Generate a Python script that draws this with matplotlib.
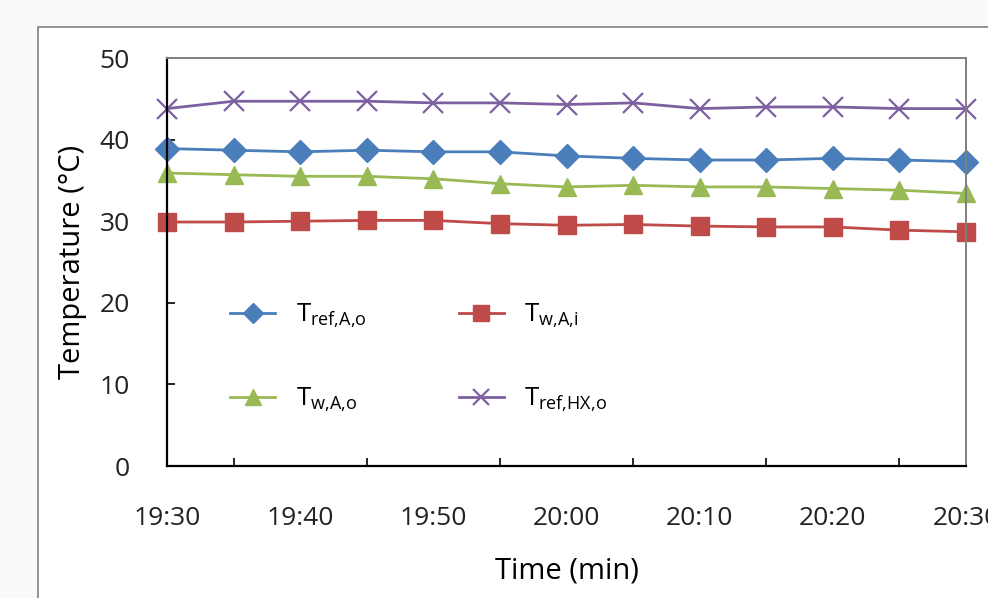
import matplotlib
matplotlib.use("Agg")
import matplotlib.pyplot as plt
from matplotlib.patches import Rectangle
from matplotlib.ticker import MultipleLocator

# Readings taken every 5 minutes
times = ["19:30", "19:35", "19:40", "19:45", "19:50", "19:55", "20:00",
         "20:05", "20:10", "20:15", "20:20", "20:25", "20:30"]
t_ref_A_o = [38.9, 38.7, 38.5, 38.7, 38.5, 38.5, 38.0, 37.7, 37.5, 37.5, 37.7, 37.5, 37.3]
t_w_A_i = [29.9, 29.9, 30.0, 30.1, 30.1, 29.7, 29.5, 29.6, 29.4, 29.3, 29.3, 28.9, 28.7]
t_w_A_o = [35.9, 35.7, 35.5, 35.5, 35.2, 34.6, 34.2, 34.4, 34.2, 34.2, 34.0, 33.8, 33.4]
t_ref_HX_o = [43.8, 44.7, 44.7, 44.7, 44.5, 44.5, 44.3, 44.5, 43.8, 44.0, 44.0, 43.8, 43.8]

tick_labels = ["19:30", "19:40", "19:50", "20:00", "20:10", "20:20", "20:30"]


def to_min(s):
    h, m = s.split(":")
    return int(h) * 60 + int(m)


start = to_min(times[0])
x = [to_min(t) - start for t in times]
xt = [to_min(t) - start for t in tick_labels]

plt.rcParams['font.family'] = ['Open Sans', 'DejaVu Sans']
plt.rcParams['mathtext.default'] = 'regular'

fig = plt.figure(figsize=(9.88, 5.98), dpi=100, facecolor="#fafafa")
# outer chart frame (runs off the right and bottom edges)
frame = Rectangle((38 / 988, -0.1), 1.2, 1 - 27 / 598 + 0.1,
                  transform=fig.transFigure, facecolor="white",
                  edgecolor="#808080", linewidth=1.2, zorder=-10)
fig.add_artist(frame)

ax = fig.add_axes([167 / 988, 1 - 466 / 598, (966 - 167) / 988, (466 - 58) / 598])
ax.set_zorder(1)
ax.patch.set_alpha(0)

ax.plot(x, t_ref_A_o, color="#4A7EBB", lw=2, marker="D", ms=12,
        label=r"$T_{ref{,}A{,}o}$", clip_on=False)
ax.plot(x, t_w_A_o, color="#98B954", lw=2, marker="^", ms=13,
        label=r"$T_{w{,}A{,}o}$", clip_on=False)
ax.plot(x, t_w_A_i, color="#BE4B48", lw=2, marker="s", ms=13,
        label=r"$T_{w{,}A{,}i}$", clip_on=False)
ax.plot(x, t_ref_HX_o, color="#7D60A0", lw=2, marker="x", ms=14, mew=1.6,
        label=r"$T_{ref{,}HX{,}o}$", clip_on=False)

ax.set_xlim(0, 60)
ax.set_ylim(0, 50)
ax.set_xticks(xt)
ax.set_xticklabels(tick_labels)
ax.set_xticks([5, 15, 25, 35, 45, 55], minor=True)
ax.tick_params(axis="x", which="major", length=0, pad=29, labelsize=19, labelcolor="#222222")
ax.tick_params(axis="x", which="minor", direction="in", length=6, width=1.2, color="black")
ax.yaxis.set_major_locator(MultipleLocator(10))
ax.tick_params(axis="y", direction="in", length=6, width=1.2, pad=27,
               labelsize=19, labelcolor="#222222", color="black")

for s in ["left", "bottom"]:
    ax.spines[s].set_linewidth(1.6)
    ax.spines[s].set_color("black")
for s in ["top", "right"]:
    ax.spines[s].set_linewidth(1.4)
    ax.spines[s].set_color("#808080")

ax.set_xlabel("Time (min)", fontsize=21, labelpad=18)
ax.set_ylabel("Temperature (°C)", fontsize=21, labelpad=9)

ax.legend(loc="upper left", bbox_to_anchor=(0.05, 0.458), ncol=2, frameon=False,
          fontsize=18.5, labelspacing=2.15, columnspacing=3.6, handlelength=1.75,
          handletextpad=0.8, markerscale=0.85)

fig.savefig("out.png", dpi=100, facecolor=fig.get_facecolor())
